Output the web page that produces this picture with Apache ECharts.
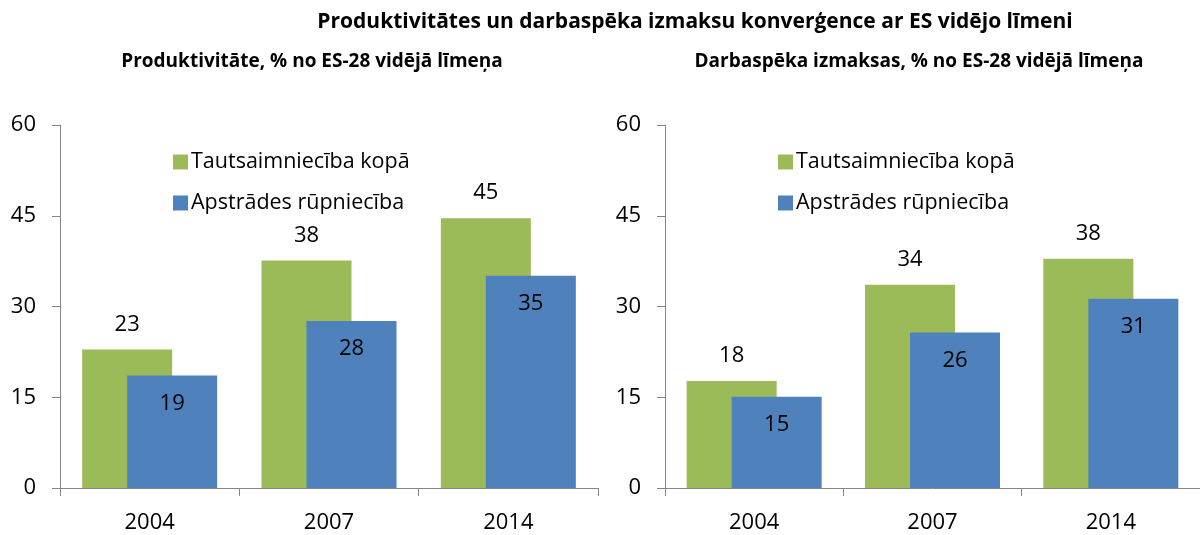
<!DOCTYPE html>
<html>
<head>
<meta charset="utf-8">
<script src="https://cdn.jsdelivr.net/npm/echarts@6/dist/echarts.min.js"></script>
<style>
  html, body { margin: 0; padding: 0; background: #fff; }
  #chart { width: 1200px; height: 535px; }
</style>
</head>
<body>
<div id="chart"></div>
<script>
// dati
var years = ['2004', '2007', '2014']
var seriesNames = ['Tautsaimniecība kopā', 'Apstrādes rūpniecība']
var prodTotal = [22.9, 37.6, 44.6]
var prodManuf = [18.6, 27.6, 35.1]
var costTotal = [17.7, 33.6, 37.9]
var costManuf = [15.1, 25.7, 31.3]
var yTicks = [0, 15, 30, 45, 60]

var FONT = "'Open Sans', 'Noto Sans', sans-serif"
var GREEN = '#9BBB59'
var BLUE = '#4F81BD'
var AXIS = '#868686'

var chart = echarts.init(document.getElementById('chart'))

function xAxis(idx) {
  return {
    type: 'category',
    gridIndex: idx,
    data: years,
    axisLine: { lineStyle: { color: AXIS, width: 1 } },
    axisTick: { show: true, length: 8, lineStyle: { color: AXIS } },
    axisLabel: { color: '#000', fontSize: 22, fontFamily: FONT, margin: 24 }
  }
}

function yAxis(idx) {
  return {
    type: 'value',
    gridIndex: idx,
    min: yTicks[0],
    max: yTicks[yTicks.length - 1],
    interval: 15,
    axisLine: { show: true, lineStyle: { color: AXIS, width: 1 } },
    axisTick: { show: true, length: 8, lineStyle: { color: AXIS } },
    splitLine: { show: false },
    axisLabel: { color: '#000', fontSize: 22, fontFamily: FONT, margin: 24 }
  }
}

function bars(idx, name, color, data, isTop) {
  return {
    name: name,
    type: 'bar',
    xAxisIndex: idx,
    yAxisIndex: idx,
    data: data,
    barWidth: 90,
    barGap: '-50%',
    itemStyle: { color: color },
    label: {
      show: true,
      position: isTop ? 'top' : 'insideTop',
      distance: isTop ? 14 : 17,
      color: '#000',
      fontSize: 22,
      fontFamily: FONT,
      formatter: function(p) { return Math.round(p.value) }
    },
    emphasis: { disabled: true },
    animation: false
  }
}

function legend(left) {
  return {
    orient: 'vertical',
    left: left,
    top: 146,
    itemWidth: 15,
    itemHeight: 15,
    itemGap: 19,
    icon: 'rect',
    data: seriesNames,
    textStyle: { color: '#000', fontSize: 21.5, fontFamily: FONT, padding: [0, 0, 0, -2] }
  }
}

chart.setOption({
  backgroundColor: '#fff',
  title: [{
    text: 'Produktivitātes un darbaspēka izmaksu konverģence ar ES vidējo līmeni',
    left: 690,
    top: 7,
    textAlign: 'center',
    textStyle: { color: '#000', fontSize: 21, fontWeight: 'bold', fontFamily: FONT }
  }, {
    text: 'Produktivitāte, % no ES-28 vidējā līmeņa',
    left: 307,
    top: 47,
    textAlign: 'center',
    textStyle: { color: '#000', fontSize: 19, fontWeight: 'bold', fontFamily: FONT }
  }, {
    text: 'Darbaspēka izmaksas, % no ES-28 vidējā līmeņa',
    left: 914,
    top: 47,
    textAlign: 'center',
    textStyle: { color: '#000', fontSize: 19, fontWeight: 'bold', fontFamily: FONT }
  }],
  legend: [legend(168), legend(773)],
  grid: [
    { left: 60, top: 125, width: 538, height: 363 },
    { left: 665, top: 125, width: 544, height: 363 }
  ],
  xAxis: [xAxis(0), xAxis(1)],
  yAxis: [yAxis(0), yAxis(1)],
  series: [
    bars(0, seriesNames[0], GREEN, prodTotal, true),
    bars(0, seriesNames[1], BLUE, prodManuf, false),
    bars(1, seriesNames[0], GREEN, costTotal, true),
    bars(1, seriesNames[1], BLUE, costManuf, false)
  ]
})
</script>
</body>
</html>
